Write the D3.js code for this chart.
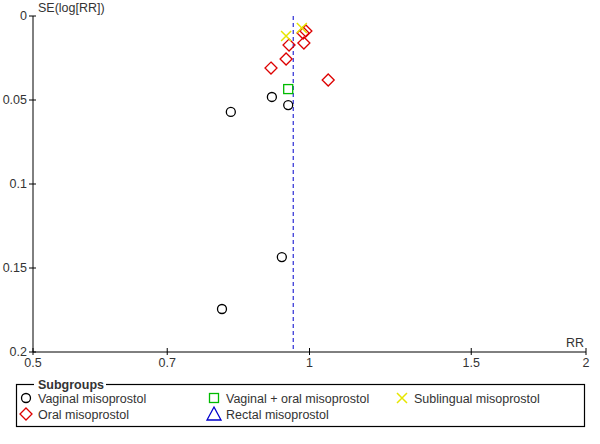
<!DOCTYPE html>
<html>
<head>
<meta charset="utf-8">
<script src="https://cdn.jsdelivr.net/npm/d3@7"></script>
<style>
  body { margin: 0; background: #fff; }
  text { font-family: "Liberation Sans", Arial, sans-serif; font-size: 12.5px; fill: #333; }
</style>
</head>
<body>
<svg id="funnel" width="600" height="444"></svg>
<script>
// Study estimates
const vaginalRR = [0.821, 0.910, 0.948, 0.933, 0.803];
const vaginalSE = [0.0571, 0.0482, 0.0530, 0.1435, 0.1744];
const comboRR = [0.948];
const comboSE = [0.0435];
const sublingualRR = [0.943, 0.981];
const sublingualSE = [0.0119, 0.0071];
const oralRR = [0.908, 0.943, 0.950, 0.986, 0.984, 0.991, 1.048];
const oralSE = [0.0310, 0.0256, 0.0173, 0.0161, 0.0101, 0.0089, 0.0381];
const pooledRR = 0.96;

const xTicks = [0.5, 0.7, 1, 1.5, 2];
const yTicks = [0, 0.05, 0.1, 0.15, 0.2];
const legendLabels = ["Vaginal misoprostol", "Vaginal + oral misoprostol", "Sublingual misoprostol",
                      "Oral misoprostol", "Rectal misoprostol"];

const svg = d3.select("#funnel");

const x = d3.scaleLog().domain([0.5, 2]).range([33, 586]);
const y = d3.scaleLinear().domain([0, 0.2]).range([16, 352]);

// y axis
svg.append("line")
    .attr("x1", x(0.5)).attr("x2", x(0.5))
    .attr("y1", y(0)).attr("y2", y(0.2))
    .attr("stroke", "#000");
svg.selectAll(".ytick")
  .data(yTicks)
  .enter().append("line")
    .attr("x1", x(0.5) - 4).attr("x2", x(0.5) + 3)
    .attr("y1", d => y(d)).attr("y2", d => y(d))
    .attr("stroke", "#000");
svg.selectAll(".ylab")
  .data(yTicks)
  .enter().append("text")
    .attr("x", x(0.5) - 6)
    .attr("y", d => y(d) + 4)
    .attr("text-anchor", "end")
    .text(d => d);
svg.append("text")
    .attr("x", x(0.5) + 5).attr("y", y(0) - 4)
    .text("SE(log[RR])");

// x axis
svg.append("line")
    .attr("x1", x(0.5)).attr("x2", x(2))
    .attr("y1", y(0.2)).attr("y2", y(0.2))
    .attr("stroke", "#000");
svg.selectAll(".xtick")
  .data(xTicks)
  .enter().append("line")
    .attr("x1", d => x(d)).attr("x2", d => x(d))
    .attr("y1", y(0.2) - 4).attr("y2", y(0.2) + 3)
    .attr("stroke", "#000");
svg.selectAll(".xlab")
  .data(xTicks)
  .enter().append("text")
    .attr("x", d => x(d))
    .attr("y", y(0.2) + 15)
    .attr("text-anchor", "middle")
    .text(d => d);
svg.append("text")
    .attr("x", x(2) - 2).attr("y", y(0.2) - 5)
    .attr("text-anchor", "end")
    .text("RR");

// pooled estimate
svg.append("line")
    .attr("x1", x(pooledRR)).attr("x2", x(pooledRR))
    .attr("y1", y(0)).attr("y2", y(0.2))
    .attr("stroke", "#0000cc")
    .attr("stroke-dasharray", "4,3");

// marker shapes
const circle = (g, cx, cy) => g.append("circle").attr("cx", cx).attr("cy", cy).attr("r", 4.5)
    .attr("fill", "none").attr("stroke", "#000").attr("stroke-width", 1.3);
const square = (g, cx, cy) => g.append("rect").attr("x", cx - 4.5).attr("y", cy - 4.5)
    .attr("width", 9).attr("height", 9)
    .attr("fill", "none").attr("stroke", "#00bb00").attr("stroke-width", 1.3);
const cross = (g, cx, cy) => g.append("path")
    .attr("d", `M${cx - 5},${cy - 5}L${cx + 5},${cy + 5}M${cx - 5},${cy + 5}L${cx + 5},${cy - 5}`)
    .attr("stroke", "#e6e600").attr("stroke-width", 1.5);
const diamond = (g, cx, cy) => g.append("path")
    .attr("d", `M${cx},${cy - 6}L${cx + 6},${cy}L${cx},${cy + 6}L${cx - 6},${cy}Z`)
    .attr("fill", "none").attr("stroke", "#dd0000").attr("stroke-width", 1.3);
const triangle = (g, cx, cy) => g.append("path")
    .attr("d", `M${cx},${cy - 7}L${cx + 7},${cy + 6}L${cx - 7},${cy + 6}Z`)
    .attr("fill", "none").attr("stroke", "#0000cc").attr("stroke-width", 1.3);

const pts = svg.append("g");
oralRR.forEach((d, i) => diamond(pts, x(d), y(oralSE[i])));
vaginalRR.forEach((d, i) => circle(pts, x(d), y(vaginalSE[i])));
comboRR.forEach((d, i) => square(pts, x(d), y(comboSE[i])));
sublingualRR.forEach((d, i) => cross(pts, x(d), y(sublingualSE[i])));

// legend
const lg = svg.append("g");
lg.append("rect")
    .attr("x", 16.5).attr("y", 384.5)
    .attr("width", 568).attr("height", 42)
    .attr("fill", "none").attr("stroke", "#000").attr("stroke-width", 1.2);
lg.append("rect")
    .attr("x", 34).attr("y", 378)
    .attr("width", 72).attr("height", 12)
    .attr("fill", "#fff");
lg.append("text")
    .attr("x", 38).attr("y", 389)
    .attr("font-weight", "bold")
    .attr("font-size", "12px")
    .text("Subgroups");

const legendPos = [[26, 398], [214, 398], [402, 398], [26, 414], [214, 414]];
const legendShapes = [circle, square, cross, diamond, triangle];
legendLabels.forEach((label, i) => {
  const [lx, ly] = legendPos[i];
  legendShapes[i](lg, lx, ly);
  lg.append("text")
      .attr("x", lx + 12).attr("y", ly + 4.5)
      .text(label);
});
</script>
</body>
</html>
